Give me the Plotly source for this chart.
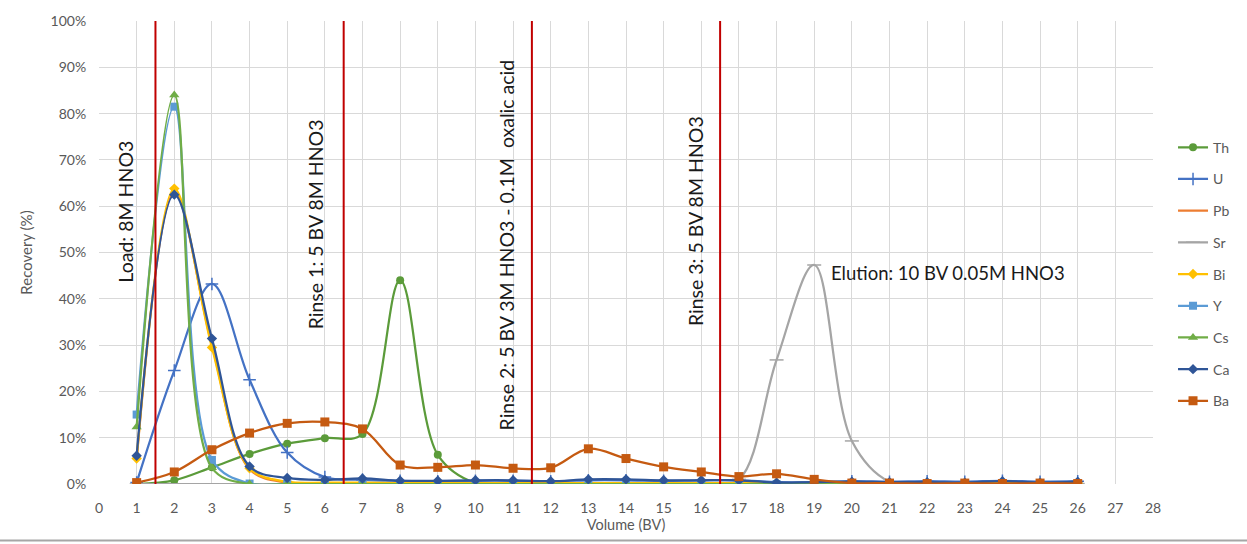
import plotly.graph_objects as go

# Elution profile: recovery (%) per bed volume fraction
volume_bv = list(range(1, 27))

th = [0, 0.8, 3.6, 6.5, 8.7, 9.9, 10.8, 44.0, 6.3, 0.2, 0, 0, 0, 0, 0, 0, 0, 0, 0, 0, 0, 0, 0, 0, 0, 0]
u = [0.3, 24.5, 43.2, 22.5, 6.8, 1.5, 0.9, 0.7, 0.6, 0.7, 0.7, 0.6, 0.8, 0.8, 0.7, 0.8, 0.8, 0.4, 0.4, 0.6, 0.5, 0.6, 0.5, 0.7, 0.5, 0.6]
pb = [5.2, 63.0, 30.0, 3.2, 0.3, 0.2, 0.2, 0.2, 0.2, 0.2, 0.2, 0.2, 0.2, 0.2, 0.2, 0.2, 0.2, 0.2, 0.2, 0.2, 0.2, 0.2, 0.2, 0.2, 0.2, 0.2]
sr = [0, 0, 0, 0, 0, 0, 0, 0, 0, 0, 0, 0, 0, 0, 0, 0, 1.0, 26.8, 47.3, 9.3, 0.5, 0.1, 0.1, 0.1, 0.1, 0.1]
bi = [5.5, 63.8, 29.5, 3.4, 0.5, 0.3, 0.3, 0.2, 0.2, 0.2, 0.2, 0.2, 0.2, 0.2, 0.2, 0.2, 0.2, 0.2, 0.2, 0.2, 0.2, 0.2, 0.2, 0.2, 0.2, 0.2]
y_el = [15.0, 81.5, 5.2, 0.1, 0, 0, 0, 0, 0, 0, 0, 0, 0, 0, 0, 0, 0, 0, 0, 0, 0, 0, 0, 0, 0, 0]
cs = [12.3, 84.0, 3.5, 0, 0, 0, 0, 0, 0, 0, 0, 0, 0, 0, 0, 0, 0, 0, 0, 0]
ca = [6.1, 62.5, 31.4, 3.8, 1.3, 0.9, 1.2, 0.7, 0.7, 0.8, 0.8, 0.6, 1.0, 1.0, 0.8, 0.8, 0.8, 0.3, 0.4, 0.5, 0.4, 0.4, 0.3, 0.6, 0.3, 0.5]
ba = [0.3, 2.6, 7.4, 11.0, 13.1, 13.4, 11.9, 4.1, 3.6, 4.1, 3.4, 3.5, 7.6, 5.5, 3.7, 2.6, 1.6, 2.2, 1.0, 0.2, 0.2, 0.1, 0.2, 0.1, 0.2, 0.1]

# Boundaries between the load / rinse / elution steps (BV)
phase_bounds = [1.5, 6.5, 11.5, 16.5]
phase_labels = [
    "Load: 8M HNO3",
    "Rinse 1: 5 BV 8M HNO3",
    "Rinse 2: 5 BV 3M HNO3 - 0.1M  oxalic acid",
    "Rinse 3: 5 BV 8M HNO3",
]
elution_label = "Elution: 10 BV 0.05M HNO3"

FONT = "Lato, 'Open Sans', sans-serif"

series = [
    ("Th", th, "#5B9B3A", "circle", 8),
    ("U", u, "#4472C4", "cross-thin", 9),
    ("Pb", pb, "#ED7D31", None, 0),
    ("Sr", sr, "#A5A5A5", "line-ew", 10),
    ("Bi", bi, "#FFC000", "diamond", 8),
    ("Y", y_el, "#5B9BD5", "square", 8),
    ("Cs", cs, "#70AD47", "triangle-up", 9),
    ("Ca", ca, "#2F5597", "diamond", 8),
    ("Ba", ba, "#C55A11", "square", 9),
]

fig = go.Figure()
for name, vals, color, sym, size in series:
    xs = volume_bv[: len(vals)]
    if sym is None:
        mode = "lines"
        marker = None
    else:
        mode = "lines+markers"
        if sym in ("cross-thin", "line-ew"):
            marker = dict(symbol=sym, size=size, line=dict(color=color, width=1.5), color=color)
        else:
            marker = dict(symbol=sym, size=size, color=color)
    fig.add_trace(go.Scatter(
        x=xs, y=vals, name=name, mode=mode,
        line=dict(color=color, width=2.25, shape="spline", smoothing=1.0),
        marker=marker, legendgroup=name,
    ))

# Step boundaries
for xb in phase_bounds:
    fig.add_shape(type="line", x0=xb, x1=xb, y0=0, y1=100, xref="x", yref="y",
                  line=dict(color="#C00000", width=2), layer="above")

# Vertical step labels, anchored at their lower end
label_pos = [(0.71, 43.0), (5.74, 33.0), (10.82, 11.1), (15.85, 33.6)]
for (lx, ly), text in zip(label_pos, phase_labels):
    fig.add_annotation(x=lx, y=ly, text=text, textangle=-90, showarrow=False,
                       font=dict(family=FONT, size=19.5, color="#1a1a1a"),
                       xanchor="center", yanchor="bottom")
fig.add_annotation(x=19.39, y=45.5, text=elution_label, showarrow=False,
                   font=dict(family=FONT, size=18.5, color="#1a1a1a"),
                   xanchor="left", yanchor="middle")

# Bottom border of the chart area
fig.add_shape(type="line", xref="paper", yref="paper", x0=-0.1, x1=1.1,
              y0=-0.122, y1=-0.122, line=dict(color="#A6A6A6", width=2))

fig.update_layout(
    width=1247, height=544,
    margin=dict(l=99, r=90, t=17, b=60),
    paper_bgcolor="white", plot_bgcolor="white",
    font=dict(family=FONT, color="#595959", size=14),
    showlegend=True,
    legend=dict(x=1.019, y=0.761, xanchor="left", yanchor="top",
                font=dict(family=FONT, size=14, color="#595959"),
                tracegroupgap=10.5, bgcolor="rgba(0,0,0,0)"),
    xaxis=dict(range=[0, 28], dtick=1, tick0=0, showgrid=True, gridcolor="#D9D9D9",
               gridwidth=1, zeroline=False, showline=False,
               ticks="outside", ticklen=11, tickcolor="rgba(0,0,0,0)",
               title=dict(text="Volume (BV)", font=dict(size=14.5, color="#595959"), standoff=0),
               tickfont=dict(size=14, color="#595959")),
    yaxis=dict(range=[0, 100], dtick=10, ticksuffix="%", showgrid=True, gridcolor="#D9D9D9",
               gridwidth=1, zeroline=False, showline=False,
               ticks="outside", ticklen=9, tickcolor="rgba(0,0,0,0)",
               title=dict(text="Recovery (%)", font=dict(size=15, color="#595959"), standoff=14),
               tickfont=dict(size=14, color="#595959")),
)

fig.write_html("out.html")
